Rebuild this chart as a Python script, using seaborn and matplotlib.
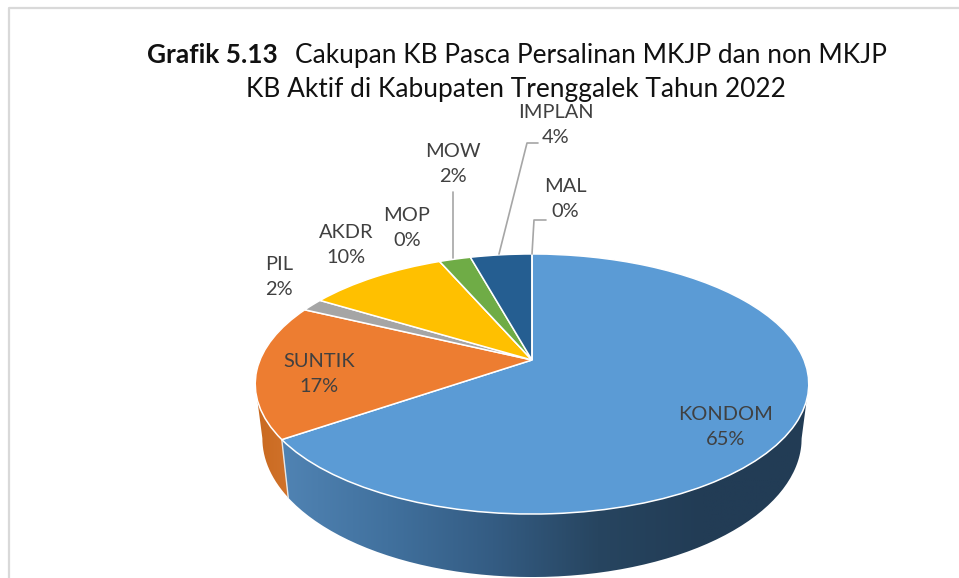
import numpy as np
import matplotlib
matplotlib.use('Agg')
import matplotlib.pyplot as plt
from matplotlib.colors import LinearSegmentedColormap
from matplotlib.path import Path
from matplotlib.transforms import Transform
import seaborn as sns

# data
categories = ['KONDOM', 'SUNTIK', 'PIL', 'AKDR', 'MOP', 'MOW', 'IMPLAN', 'MAL']
shares = [65.4, 16.7, 1.6, 9.8, 0.0, 2.2, 4.3, 0.0]
pie_colors = ['#5B9BD5', '#ED7D31', '#A5A5A5', '#FFC000', '#4472C4', '#6FAC46', '#255E91', '#9E480E']

sns.set_theme(style='white')
plt.rcParams['font.family'] = ['Lato', 'DejaVu Sans']

TEXT_GREY = '#404040'
LEADER_GREY = '#A6A6A6'
FRAME_GREY = '#D9D9D9'


class Tilt(Transform):
    # perspective view of a flat unit disc, output in image pixels
    input_dims = 2
    output_dims = 2

    def __init__(self, cx, cy, a, b, k):
        super().__init__()
        self.cx, self.cy, self.a, self.b, self.k = cx, cy, a, b, k

    def transform_non_affine(self, values):
        values = np.asarray(values, dtype=float)
        w = 1 + self.k * values[:, 1]
        return np.column_stack([self.cx + self.a * values[:, 0] / w,
                                self.cy - self.b * values[:, 1] / w])


top_disc = Tilt(532, 360, 272, 125.6, 0.1846)
bottom_disc = Tilt(532, 412.7, 265, 134, 0.1846)


def rim(theta):
    rad = np.radians(theta)
    return np.column_stack([np.cos(rad), np.sin(rad)])


fig, ax = plt.subplots(figsize=(9.59, 5.78), dpi=100)
fig.subplots_adjust(left=0, right=1, bottom=0, top=1)

wedges, _ = ax.pie(shares, colors=sns.color_palette(pie_colors), startangle=90,
                   counterclock=False, wedgeprops={'edgecolor': 'white', 'linewidth': 1.1})
for w in wedges:
    w.set_transform(top_disc + ax.transData)
    w.set_zorder(3)

# side wall of the disc, only the front half shows
limit = np.degrees(np.arcsin(top_disc.k))
front_lo, front_hi = -180 + limit, -limit
kondom_cmap = LinearSegmentedColormap.from_list(
    'kondom', ['#5083B3', '#41719E', '#345C83', '#274560', '#223C55', '#223C55'])
suntik_cmap = LinearSegmentedColormap.from_list('suntik', ['#C9691F', '#D0722B'])
wall_cmaps = {'KONDOM': kondom_cmap, 'SUNTIK': suntik_cmap}

for name, w in zip(categories, wedges):
    if name not in wall_cmaps:
        continue
    t = np.linspace(max(w.theta1, front_lo), min(w.theta2, front_hi), 120)
    upper = top_disc.transform(rim(t))
    lower = bottom_disc.transform(rim(t))
    poly = np.vstack([upper, lower[::-1], upper[:1]])
    x0, x1 = poly[:, 0].min(), poly[:, 0].max()
    y0, y1 = poly[:, 1].min(), poly[:, 1].max()
    im = ax.imshow(np.linspace(0, 1, 256)[None, :], extent=(x0, x1, y1, y0), aspect='auto',
                   cmap=wall_cmaps[name], zorder=1)
    im.set_clip_path(Path(poly), ax.transData)

# pale seam where blue and orange walls meet
seam = rim(np.array([wedges[0].theta1]))
seam_top = top_disc.transform(seam)[0]
seam_bottom = bottom_disc.transform(seam)[0]
ax.plot([seam_top[0], seam_bottom[0]], [seam_top[1], seam_bottom[1]],
        color='#E6E6E6', lw=1, zorder=2)

# labels
label_x = [726, 319, 279, 346, 407, 453, 556, 565]
label_y = [427, 374, 277, 245, 228, 164, 125, 199]
for name, share, x, y in zip(categories, shares, label_x, label_y):
    ax.text(x, y, f'{name}\n{round(share)}%', ha='center', va='center', fontsize=14.4,
            color=TEXT_GREY, linespacing=1.62, zorder=5)

# leader lines
ax.plot([452.5, 452.5], [192, 258], color=LEADER_GREY, lw=1.2, zorder=4)
ax.plot([538, 527, 499], [143, 143, 254], color=LEADER_GREY, lw=1.2, zorder=4)
ax.plot([546, 534, 532], [220, 220, 254], color=LEADER_GREY, lw=1.2, zorder=4)

# title
ax.text(147, 55, 'Grafik 5.13', fontsize=18.9, fontweight='bold', color='#111111', va='center', zorder=4)
ax.text(295, 55, 'Cakupan KB Pasca Persalinan MKJP dan non MKJP', fontsize=18.9,
        color='#111111', va='center', zorder=4)
ax.text(516, 90, 'KB Aktif di Kabupaten Trenggalek Tahun 2022', fontsize=18.9,
        color='#111111', ha='center', va='center', zorder=4)

# frame of the screenshot
ax.plot([9, 9, 959], [578, 8, 8], color=FRAME_GREY, lw=1.6, zorder=0)

ax.set_aspect('auto')
ax.set_xlim(0, 959)
ax.set_ylim(578, 0)
ax.axis('off')

fig.savefig('out.png', dpi=100, facecolor='white')
